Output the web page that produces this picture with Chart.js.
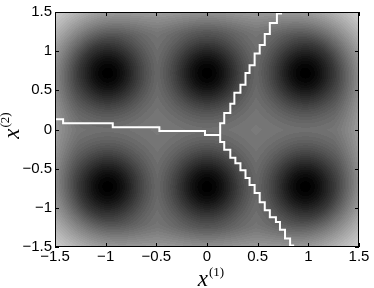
<!DOCTYPE html>
<html>
<head>
<meta charset="utf-8">
<script src="https://cdn.jsdelivr.net/npm/chart.js@4/dist/chart.umd.min.js"></script>
<style>
  html, body { margin: 0; padding: 0; background: #fff; }
  #wrap { width: 374px; height: 288px; }
</style>
</head>
<body>
<div id="wrap"><canvas id="boundaryChart" width="374" height="288"></canvas></div>
<script>
// Axis ticks (same on both axes)
const tickValues = [-1.5, -1, -0.5, 0, 0.5, 1, 1.5];
const tickLabels = ['\u22121.5', '\u22121', '\u22120.5', '0', '0.5', '1', '1.5'];

// Centres of the six dark blobs
const blobX = [-0.98, 0.0, 0.97, -0.98, 0.0, 0.97];
const blobY = [0.72, 0.72, 0.72, -0.73, -0.73, -0.73];

// Decision boundary, three staircase branches meeting near (0.13, -0.07)
const leftBranch = [
    [-1.5, 0.13], [-1.42, 0.13], [-1.42, 0.08], [-0.93, 0.08], [-0.93, 0.03],
    [-0.47, 0.03], [-0.47, -0.02], [-0.02, -0.02], [-0.02, -0.07], [0.13, -0.07]
];
const upperBranch = [
    [0.13, -0.07], [0.13, 0.08], [0.17, 0.08], [0.17, 0.21], [0.23, 0.21], [0.23, 0.33],
    [0.27, 0.33], [0.27, 0.47], [0.33, 0.47], [0.33, 0.57], [0.38, 0.57], [0.38, 0.72],
    [0.42, 0.72], [0.42, 0.82], [0.47, 0.82], [0.47, 0.97], [0.52, 0.97], [0.52, 1.08],
    [0.57, 1.08], [0.57, 1.22], [0.62, 1.22], [0.62, 1.36], [0.69, 1.36], [0.69, 1.48],
    [0.73, 1.48], [0.73, 1.5]
];
const lowerBranch = [
    [0.13, -0.07], [0.13, -0.16], [0.17, -0.16], [0.17, -0.26], [0.23, -0.26], [0.23, -0.36],
    [0.28, -0.36], [0.28, -0.43], [0.33, -0.43], [0.33, -0.52], [0.38, -0.52], [0.38, -0.62],
    [0.42, -0.62], [0.42, -0.71], [0.47, -0.71], [0.47, -0.81], [0.52, -0.81], [0.52, -0.93],
    [0.57, -0.93], [0.57, -1.03], [0.62, -1.03], [0.62, -1.12], [0.68, -1.12], [0.68, -1.18],
    [0.72, -1.18], [0.72, -1.28], [0.77, -1.28], [0.77, -1.39], [0.82, -1.39], [0.82, -1.48],
    [0.85, -1.48], [0.85, -1.5]
];

function toPoints(branch) {
    return branch.map(p => ({ x: p[0], y: p[1] }));
}

// Gray level (0..255) from pixel distances to the blob centres
function fieldGray(px, py, cx, cy) {
    let core = 0;
    let broad = 0;
    for (let k = 0; k < cx.length; k++) {
        const d2 = (px - cx[k]) ** 2 + (py - cy[k]) ** 2;
        core = Math.max(core, Math.exp(-d2 / (2 * 26 * 26)));
        broad += Math.exp(-d2 / (2 * 50 * 50));
    }
    const edge = Math.max(0, 1 - broad / 0.95);
    let v = 0.48 * (1 - core) + 0.55 * Math.pow(edge, 1.4);
    v = Math.round(v * 48) / 48; // contour-like banding
    return Math.max(0, Math.min(255, Math.round(v * 255)));
}

// Paints the field under the datasets, pixel by pixel through the scales
const fieldPlugin = {
    id: 'field',
    beforeDatasetsDraw(chart) {
        const area = chart.chartArea;
        const xs = chart.scales.x;
        const ys = chart.scales.y;
        const w = Math.round(area.right - area.left);
        const h = Math.round(area.bottom - area.top);
        const cx = blobX.map(v => xs.getPixelForValue(v));
        const cy = blobY.map(v => ys.getPixelForValue(v));
        const off = document.createElement('canvas');
        off.width = w;
        off.height = h;
        const octx = off.getContext('2d');
        const img = octx.createImageData(w, h);
        for (let j = 0; j < h; j++) {
            const py = area.top + j + 0.5;
            for (let i = 0; i < w; i++) {
                const px = area.left + i + 0.5;
                const g = fieldGray(px, py, cx, cy);
                const idx = (j * w + i) * 4;
                img.data[idx] = g;
                img.data[idx + 1] = g;
                img.data[idx + 2] = g;
                img.data[idx + 3] = 255;
            }
        }
        octx.putImageData(img, 0, 0);
        chart.ctx.drawImage(off, area.left, area.top);
    }
};

// Box, inward ticks on all four sides, and the axis labels
const framePlugin = {
    id: 'frame',
    afterDatasetsDraw(chart) {
        const ctx = chart.ctx;
        const a = chart.chartArea;
        const xs = chart.scales.x;
        const ys = chart.scales.y;
        const len = 4;
        ctx.save();
        ctx.strokeStyle = '#000';
        ctx.lineWidth = 1;
        ctx.beginPath();
        tickValues.forEach(v => {
            const px = Math.round(xs.getPixelForValue(v)) + 0.5;
            ctx.moveTo(px, a.bottom);
            ctx.lineTo(px, a.bottom - len);
            ctx.moveTo(px, a.top);
            ctx.lineTo(px, a.top + len);
            const py = Math.round(ys.getPixelForValue(v)) + 0.5;
            ctx.moveTo(a.left, py);
            ctx.lineTo(a.left + len, py);
            ctx.moveTo(a.right, py);
            ctx.lineTo(a.right - len, py);
        });
        ctx.stroke();
        ctx.strokeRect(a.left + 0.5, a.top + 0.5, a.right - a.left - 1, a.bottom - a.top - 1);
        ctx.restore();

        drawAxisLabel(ctx, 'x', '(1)', (a.left + a.right) / 2 + 4, 286, 0);
        drawAxisLabel(ctx, 'x', '(2)', 19, (a.top + a.bottom) / 2 - 4, -Math.PI / 2);
    }
};

// Italic x with an upright superscript, centred on (x, baseline)
function drawAxisLabel(ctx, main, sup, x, base, rotation) {
    const mainFont = 'italic 23px "Liberation Serif"';
    const supFont = '13px "Liberation Serif"';
    ctx.save();
    ctx.font = mainFont;
    const mw = ctx.measureText(main).width;
    ctx.font = supFont;
    const sw = ctx.measureText(sup).width;
    const total = mw + sw + 1;
    ctx.translate(x, base);
    ctx.rotate(rotation);
    ctx.fillStyle = '#000';
    ctx.textBaseline = 'alphabetic';
    ctx.textAlign = 'left';
    ctx.font = mainFont;
    ctx.fillText(main, -total / 2, 0);
    ctx.font = supFont;
    ctx.fillText(sup, -total / 2 + mw + 1, -10);
    ctx.restore();
}

const ctx = document.getElementById('boundaryChart').getContext('2d');

const lineStyle = {
    borderColor: '#ffffff',
    borderWidth: 2,
    pointRadius: 0,
    showLine: true,
    tension: 0,
    fill: false
};

new Chart(ctx, {
    type: 'scatter',
    data: {
        datasets: [
            Object.assign({ label: 'left', data: toPoints(leftBranch) }, lineStyle),
            Object.assign({ label: 'upper', data: toPoints(upperBranch) }, lineStyle),
            Object.assign({ label: 'lower', data: toPoints(lowerBranch) }, lineStyle)
        ]
    },
    options: {
        responsive: false,
        animation: false,
        layout: { padding: { top: 12, right: 15, left: 0, bottom: 0 } },
        plugins: {
            legend: { display: false },
            tooltip: { enabled: false }
        },
        scales: {
            x: {
                type: 'linear',
                min: -1.5,
                max: 1.5,
                grid: { display: false, drawTicks: false },
                border: { display: false },
                afterBuildTicks: scale => { scale.ticks = tickValues.map(v => ({ value: v })); },
                afterFit: scale => { scale.height = 41; },
                ticks: {
                    color: '#000',
                    padding: 1,
                    maxRotation: 0,
                    font: { family: 'Liberation Sans', size: 15 },
                    callback: (value, index) => tickLabels[index]
                }
            },
            y: {
                type: 'linear',
                min: -1.5,
                max: 1.5,
                grid: { display: false, drawTicks: false },
                border: { display: false },
                afterBuildTicks: scale => { scale.ticks = tickValues.map(v => ({ value: v })); },
                afterFit: scale => { scale.width = 55; },
                ticks: {
                    color: '#000',
                    padding: 3,
                    font: { family: 'Liberation Sans', size: 15 },
                    callback: (value, index) => tickLabels[index]
                }
            }
        }
    },
    plugins: [fieldPlugin, framePlugin]
});
</script>
</body>
</html>
